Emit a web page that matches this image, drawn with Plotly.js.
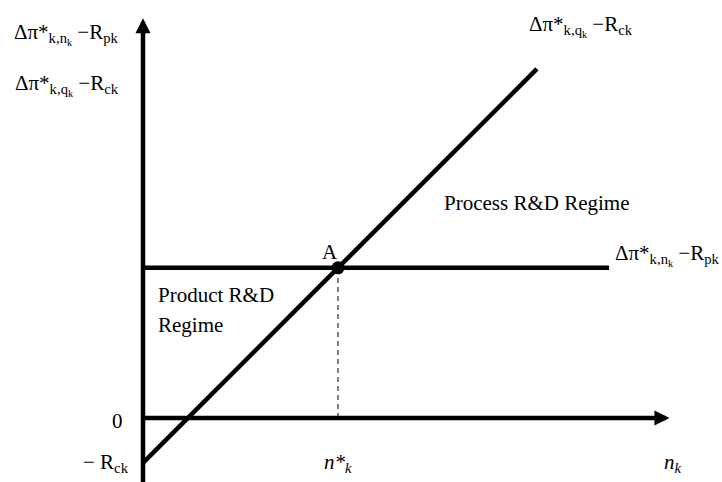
<!DOCTYPE html>
<html>
<head>
<meta charset="utf-8">
<script src="https://cdn.plot.ly/plotly-3.0.1.min.js"></script>
<style>html,body{margin:0;padding:0;background:#fff;}#chart{width:722px;height:482px;}</style>
</head>
<body>
<div id="chart"></div>
<script>
// Model values (diagram units)
const Rck = 2.3;                 // intercept -R_ck
const productLevel = 7.7;        // Δπ*_{k,n_k} - R_pk (flat line)
const nStar = 10;                // n*_k, where the lines cross (point A)
const processX = [0, 20.2];      // Δπ*_{k,q_k} - R_ck line, n_k values
const processY = [-2.3, 17.9];   // Δπ*_{k,q_k} - R_ck line, values
const productX = [0, 23.9];      // flat line n_k values
const productY = [7.7, 7.7];     // flat line values
const dashX = [10, 10];
const dashY = [0, 7.7];
const pointAX = [10];
const pointAY = [7.7];
const xAxisEnd = 27;
const yAxisEnd = 20.5;
const yAxisStart = -3.4;

const serif = 'Liberation Serif';
const txt = (text, x, y, xanchor, extra) => Object.assign({
  text: text, x: x, y: y, xref: 'x', yref: 'y', showarrow: false,
  xanchor: xanchor, yanchor: 'middle',
  font: {family: serif, size: 21, color: '#000'}
}, extra || {});

const traces = [
  {x: processX, y: processY, mode: 'lines', line: {color: '#000', width: 4.5}, hoverinfo: 'skip'},
  {x: productX, y: productY, mode: 'lines', line: {color: '#000', width: 4.5}, hoverinfo: 'skip'},
  {x: dashX, y: dashY, mode: 'lines', line: {color: '#000', width: 1, dash: '5px,4px'}, hoverinfo: 'skip'},
  {x: pointAX, y: pointAY, mode: 'markers', marker: {color: '#000', size: 13}, hoverinfo: 'skip'}
];

const annotations = [
  // axes with arrows
  {x: 0, y: yAxisEnd, ax: 0, ay: yAxisStart, xref: 'x', yref: 'y', axref: 'x', ayref: 'y',
   text: '', showarrow: true, arrowhead: 2, arrowsize: 0.67, arrowwidth: 4.5, arrowcolor: '#000'},
  {x: xAxisEnd, y: 0, ax: 0, ay: 0, xref: 'x', yref: 'y', axref: 'x', ayref: 'y',
   text: '', showarrow: true, arrowhead: 2, arrowsize: 0.67, arrowwidth: 4.5, arrowcolor: '#000'},
  // labels
  txt('Δπ*<sub>k,n<sub>k</sub></sub> −R<sub>pk</sub>', -1.13, 19.7, 'right'),
  txt('Δπ*<sub>k,q<sub>k</sub></sub> −R<sub>ck</sub>', -1.13, 17.1, 'right'),
  txt('Δπ*<sub>k,q<sub>k</sub></sub> −R<sub>ck</sub>', 19.69, 20.1, 'left'),
  txt('Δπ*<sub>k,n<sub>k</sub></sub> −R<sub>pk</sub>', 24.1, 8.35, 'left'),
  txt('0', -1.33, -0.15, 'center'),
  txt('− R<sub>ck</sub>', -0.62, -Rck, 'right'),
  txt('<i>n*<sub>k</sub></i>', nStar, -2.3, 'center'),
  txt('<i>n<sub>k</sub></i>', 27.2, -2.3, 'center'),
  txt('A', 9.59, 8.51, 'center'),
  txt('Process R&amp;D Regime', 15.33, 11.03, 'left'),
  txt('Product R&amp;D', 0.67, 6.31, 'left'),
  txt('Regime', 0.67, 4.77, 'left')
];

const layout = {
  width: 722, height: 482, autosize: false,
  margin: {l: 0, r: 0, t: 0, b: 0, pad: 0},
  paper_bgcolor: '#fff', plot_bgcolor: '#fff',
  font: {family: serif},
  showlegend: false,
  xaxis: {range: [-7.333, 29.692], visible: false, fixedrange: true},
  yaxis: {range: [-3.282, 21.436], visible: false, fixedrange: true},
  annotations: annotations
};

Plotly.newPlot('chart', traces, layout, {displayModeBar: false, staticPlot: true});
</script>
</body>
</html>
